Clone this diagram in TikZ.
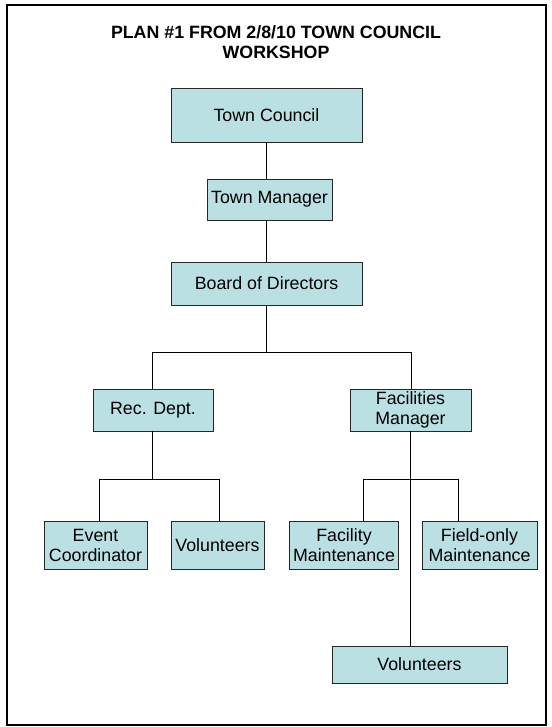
\documentclass[tikz,border=0pt]{standalone}
\usepackage{fontspec}
\setmainfont{Liberation Sans}
\definecolor{boxfill}{RGB}{187,224,227}
\begin{document}
\begin{tikzpicture}[x=1pt,y=-1pt,
  box/.style={draw=black!85, line width=0.9pt, fill=boxfill, inner sep=0pt, align=center, font=\fontsize{17.8}{20}\selectfont},
  conn/.style={line width=0.9pt}]
\useasboundingbox (0,0) rectangle (551,727);
\draw[line width=2.6pt] (7,5) rectangle (546,725);
\node[font=\bfseries\fontsize{17.8}{20}\selectfont, align=center] (title) at (276,42) {PLAN \#1 FROM 2/8/10 TOWN COUNCIL\\WORKSHOP};
\node[box, minimum width=191pt, minimum height=54pt] (tc) at (266.5,115) {Town Council};
\node[box, minimum width=125pt, minimum height=41pt] (tm) at (269.5,199.5) {Town Manager};
\node[box, minimum width=191pt, minimum height=43pt] (bod) at (266.5,283.5) {Board of Directors};
\node[box, minimum width=120pt, minimum height=42pt] (rec) at (153,410) {Rec. Dept.};
\node[box, minimum width=121pt, minimum height=42pt] (fm) at (410.5,410) {Facilities\\Manager};
\node[box, minimum width=103pt, minimum height=48pt] (ec) at (95.5,545) {Event\\Coordinator};
\node[box, minimum width=93pt, minimum height=48pt] (v1) at (217.5,545) {Volunteers};
\node[box, minimum width=109pt, minimum height=48pt] (fmaint) at (344,545) {Facility\\Maintenance};
\node[box, minimum width=115pt, minimum height=48pt] (field) at (479.5,545) {Field-only\\Maintenance};
\node[box, minimum width=175pt, minimum height=37pt] (v2) at (419.5,664.5) {Volunteers};
\coordinate (sp) at (266,352);
\coordinate (bl) at (152,352);
\coordinate (br) at (411,352);
\coordinate (rc) at (152,479);
\coordinate (rl) at (99,479);
\coordinate (rr) at (219,479);
\coordinate (fc) at (410,479);
\coordinate (fl) at (363,479);
\coordinate (fr) at (458,479);
\draw[conn] (tc.south -| sp) -- (tm.north -| sp);
\draw[conn] (tm.south -| sp) -- (bod.north -| sp);
\draw[conn] (bod.south -| sp) -- (sp);
\draw[conn] (rec.north -| bl) -- (bl) -- (br) -- (fm.north -| br);
\draw[conn] (rec.south -| rc) -- (rc);
\draw[conn] (ec.north -| rl) -- (rl) -- (rr) -- (v1.north -| rr);
\draw[conn] (fm.south -| fc) -- (v2.north -| fc);
\draw[conn] (fmaint.north -| fl) -- (fl) -- (fr) -- (field.north -| fr);
\end{tikzpicture}
\end{document}
